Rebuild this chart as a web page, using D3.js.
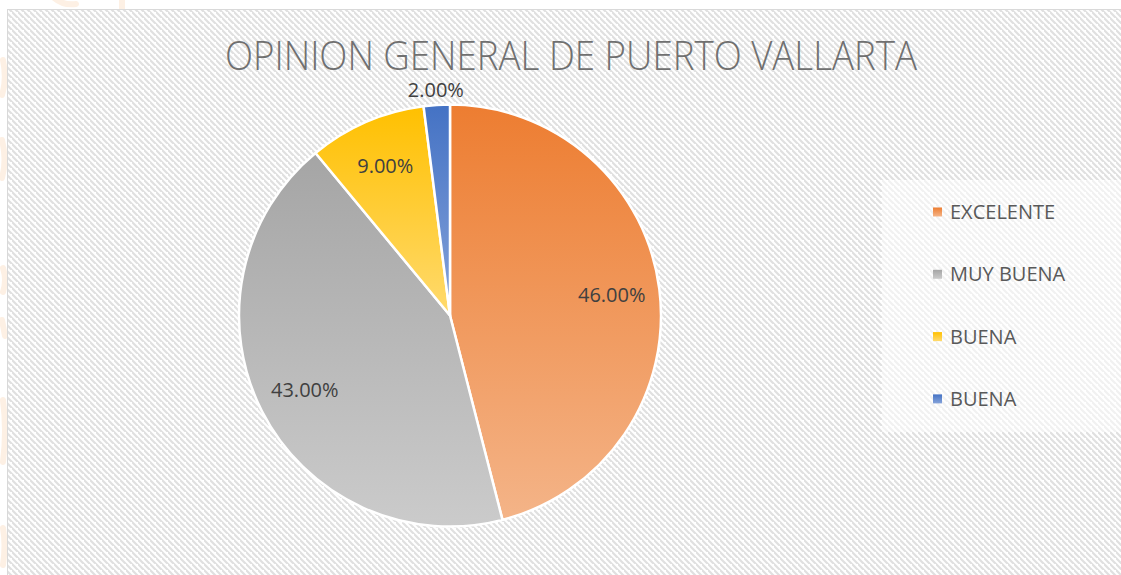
<!DOCTYPE html>
<html>
<head>
<meta charset="utf-8">
<script src="https://cdn.jsdelivr.net/npm/d3@7"></script>
<style>
	body { margin: 0; background: #ffffff; }
	svg { display: block; font-family: 'Open Sans', sans-serif; }
</style>
</head>
<body>
<svg></svg>
<script>
const categories = ['EXCELENTE', 'MUY BUENA', 'BUENA', 'BUENA'];
const values = [46, 43, 9, 2];
const seriesColorsTop = ['#ED7D31', '#A5A5A5', '#FFC000', '#4472C4'];
const seriesColorsBottom = ['#F4B488', '#CBCBCB', '#FFDA6E', '#86A3DA'];
const title = 'OPINION GENERAL DE PUERTO VALLARTA';

const width = 1121;
const height = 575;
const center = { x: 450, y: 315.5 };
const radius = 211;
const insideLabelRadius = 163;
const outsideLabelRadius = 226;

const svg = d3.select('svg')
	.attr('width', width)
	.attr('height', height);

const defs = svg.append('defs');

// wide downward diagonal hatch of the chart area
const hatch = defs.append('pattern')
	.attr('id', 'hatch')
	.attr('patternUnits', 'userSpaceOnUse')
	.attr('width', 6)
	.attr('height', 6);
hatch.append('rect').attr('width', 6).attr('height', 6).attr('fill', '#ffffff');
hatch.append('path')
	.attr('d', 'M-1,-1 L7,7 M-4,2 L2,8 M4,-4 L10,2')
	.attr('stroke', '#e0e0e0')
	.attr('stroke-width', 2.2);

values.forEach((v, i) => {
	const grad = defs.append('linearGradient')
		.attr('id', 'grad' + i)
		.attr('x1', 0).attr('y1', 0)
		.attr('x2', 0).attr('y2', 1);
	grad.append('stop').attr('offset', '0%').attr('stop-color', seriesColorsTop[i]);
	grad.append('stop').attr('offset', '100%').attr('stop-color', seriesColorsBottom[i]);
});

// faint watermark pieces peeking out behind the chart
const watermark = svg.append('g')
	.attr('fill', 'none')
	.attr('stroke', '#fdf0e4')
	.attr('stroke-width', 6)
	.attr('stroke-linecap', 'round');
watermark.append('path').attr('d', 'M52,-4 Q62,6 76,4');
watermark.append('path').attr('d', 'M122,-2 L122,8');
watermark.append('path').attr('d', 'M3,60 Q7,80 2,95');
watermark.append('path').attr('d', 'M2,140 Q7,160 2,178');
watermark.append('path').attr('d', 'M3,268 Q7,280 3,292');
watermark.append('path').attr('d', 'M2,320 L5,336');
watermark.append('path').attr('d', 'M3,400 Q7,430 3,462');
watermark.append('path').attr('d', 'M3,528 Q6,545 3,565');

svg.append('rect')
	.attr('x', 7.5)
	.attr('y', 9.5)
	.attr('width', width + 20)
	.attr('height', height + 20)
	.attr('fill', 'url(#hatch)')
	.attr('stroke', '#d9d9d9')
	.attr('stroke-width', 1);

svg.append('text')
	.attr('x', 571)
	.attr('y', 70)
	.attr('text-anchor', 'middle')
	.attr('font-size', 41)
	.attr('font-weight', 300)
	.attr('fill', '#707070')
	.attr('textLength', 692)
	.attr('lengthAdjust', 'spacingAndGlyphs')
	.text(title);

const data = categories.map((c, i) => ({ category: c, value: values[i], index: i }));

const pie = d3.pie()
	.sort(null)
	.value(d => d.value);

const arc = d3.arc()
	.innerRadius(0)
	.outerRadius(radius);

const insideArc = d3.arc().innerRadius(insideLabelRadius).outerRadius(insideLabelRadius);
const outsideArc = d3.arc().innerRadius(outsideLabelRadius).outerRadius(outsideLabelRadius);

const pieG = svg.append('g')
	.attr('transform', `translate(${center.x},${center.y})`);

const arcs = pie(data);

pieG.selectAll('path.slice').data(arcs)
	.enter().append('path')
		.attr('class', 'slice')
		.attr('d', arc)
		.attr('fill', d => `url(#grad${d.data.index})`)
		.attr('stroke', '#ffffff')
		.attr('stroke-width', 2.5)
		.attr('stroke-linejoin', 'round');

pieG.selectAll('text.label').data(arcs)
	.enter().append('text')
		.attr('class', 'label')
		.attr('transform', d => {
			const c = d.data.value < 5 ? outsideArc.centroid(d) : insideArc.centroid(d);
			return `translate(${c[0]},${c[1]})`;
		})
		.attr('text-anchor', 'middle')
		.attr('dy', '0.35em')
		.attr('font-size', 20)
		.attr('fill', '#404040')
		.text(d => d3.format('.2f')(d.data.value) + '%');

// legend
const legendG = svg.append('g')
	.attr('transform', 'translate(882,180)');

legendG.append('rect')
	.attr('width', 245)
	.attr('height', 252)
	.attr('fill', '#ffffff')
	.attr('fill-opacity', 0.55);

const legendItem = legendG.selectAll('g.legend-item').data(data)
	.enter().append('g')
		.attr('class', 'legend-item')
		.attr('transform', (d, i) => `translate(51,${32 + i * 62.3})`);

legendItem.append('rect')
	.attr('x', 0)
	.attr('y', -4.5)
	.attr('width', 9)
	.attr('height', 9)
	.attr('fill', d => `url(#grad${d.index})`);

legendItem.append('text')
	.attr('x', 17)
	.attr('dy', '0.35em')
	.attr('font-size', 20)
	.attr('fill', '#595959')
	.text(d => d.category);
</script>
</body>
</html>
